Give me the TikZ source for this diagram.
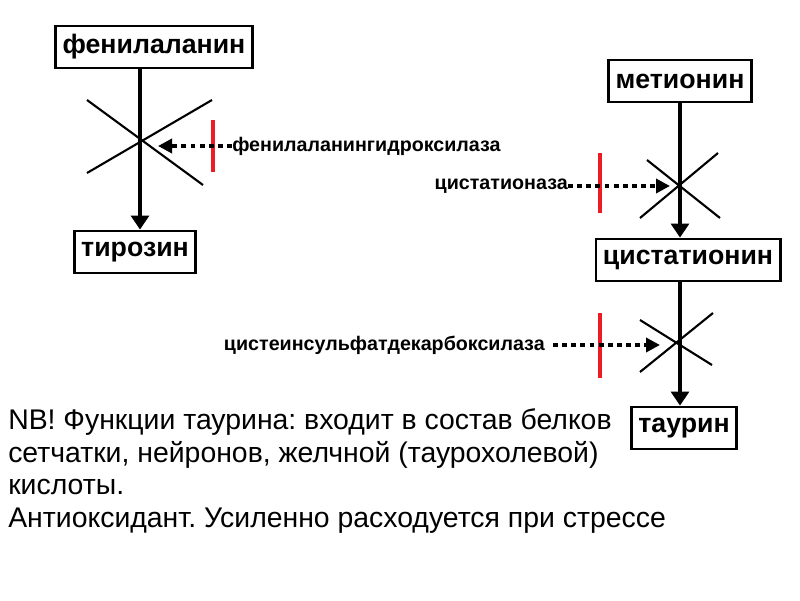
\documentclass[tikz,border=0pt]{standalone}
\usepackage{fontspec}
\setmainfont{Liberation Sans}
\usepackage{xcolor}
\usepackage{tikz}
\usetikzlibrary{arrows.meta, positioning, calc}
\definecolor{blockred}{RGB}{237, 28, 36}
\frenchspacing

\begin{document}
\begin{tikzpicture}[
    box/.style={draw, line width=2pt, font=\fontsize{19}{22}\selectfont\bfseries,
                minimum height=1.05cm, inner xsep=5pt},
    flow/.style={line width=2.2pt, -{Triangle[length=0.35cm, width=0.45cm]}},
    cross/.style={line width=1.5pt},
    block/.style={draw=blockred, line width=2.8pt},
    enz/.style={font=\fontsize{14}{16}\selectfont\bfseries, inner sep=0pt},
    inhib/.style={line width=2.8pt, dash pattern=on 3.5pt off 3pt,
                  -{Triangle[length=0.35cm, width=0.35cm]}}
]
    \useasboundingbox (0,0) rectangle (20,15);

    % Phenylalanine branch
    \node[box] (phe) at (3.85,13.825) {фенилаланин};
    \node[box] (tyr) at (3.375,8.7) {тирозин};
    \coordinate (x1) at (3.5,11.475);
    \draw[flow] (phe.south -| x1) -- (tyr.north -| x1);
    \draw[cross] ($(x1)+(-1.325,1.025)$) -- ($(x1)+(1.575,-1.1)$);
    \draw[cross] ($(x1)+(-1.325,-0.8)$) -- ($(x1)+(1.8,1.025)$);
    \draw[block] (5.325,12.0) -- (5.325,10.7);
    \node[enz, anchor=west] (e1) at (5.8,11.35) {фенилаланингидроксилаза};
    \draw[inhib] (e1.west) -- ([xshift=0.45cm]x1 |- e1.west);

    % Methionine branch
    \node[box] (met) at (17.0,12.975) {метионин};
    \node[box] (cysta) at (17.2,8.5) {цистатионин};
    \node[box] (tau) at (17.1,4.3) {таурин};
    \coordinate (x2) at (17.0,10.35);
    \coordinate (x3) at (17.0,6.425);
    \draw[flow] (met.south -| x2) -- (cysta.north -| x2);
    \draw[flow] (cysta.south -| x3) -- (tau.north -| x3);

    \draw[cross] ($(x2)+(-0.825,0.65)$) -- ($(x2)+(1.0,-0.8)$);
    \draw[cross] ($(x2)+(-1.0,-0.8)$) -- ($(x2)+(0.95,0.825)$);
    \draw[block] (15.0,11.175) -- (15.0,9.675);
    \node[enz, anchor=east] (e2) at (14.2,10.35) {цистатионаза};
    \draw[inhib] (e2.east) -- ([xshift=-0.25cm]x2);

    \draw[cross] ($(x3)+(-1.0,0.575)$) -- ($(x3)+(0.8,-0.55)$);
    \draw[cross] ($(x3)+(-1.0,-0.725)$) -- ($(x3)+(0.825,0.75)$);
    \draw[block] (15.0,7.175) -- (15.0,5.55);
    \node[enz, anchor=east] (e3) at (13.625,6.375) {цистеинсульфатдекарбоксилаза};
    \draw[inhib] ([xshift=0.2cm]e3.east) -- ([xshift=-0.5cm]x3 |- e3.east);

    % Note
    \node[anchor=base west, align=left, inner sep=0pt,
          font=\fontsize{20.2}{23}\selectfont] (nb) at (0.2,1.825)
        {NB! Функции таурина: входит в состав белков\\
         сетчатки, нейронов, желчной (таурохолевой)\\
         кислоты.\\
         Антиоксидант. Усиленно расходуется при стрессе};
\end{tikzpicture}
\end{document}
